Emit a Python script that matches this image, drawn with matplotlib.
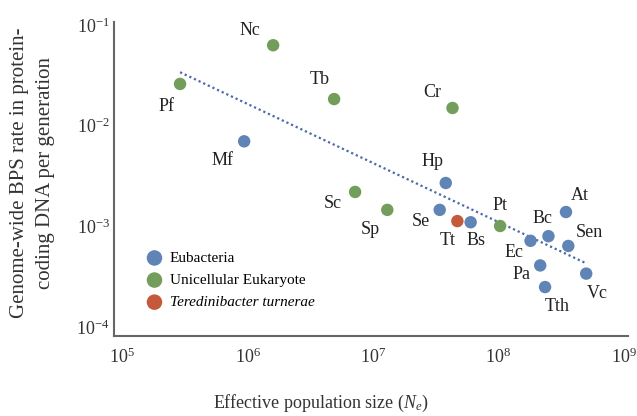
import matplotlib
matplotlib.use("Agg")
import matplotlib.pyplot as plt
import numpy as np

plt.rcParams['font.family'] = ['Liberation Serif', 'DejaVu Serif']
plt.rcParams['mathtext.fontset'] = 'custom'
plt.rcParams['mathtext.rm'] = 'Liberation Serif'
plt.rcParams['mathtext.it'] = 'Liberation Serif:italic'

# species: name, Ne, rate, group
names = ['Nc', 'Pf', 'Mf', 'Tb', 'Cr', 'Hp', 'Sc', 'Sp', 'Se', 'Tt', 'Bs',
         'Pt', 'Bc', 'At', 'Sen', 'Ec', 'Pa', 'Tth', 'Vc']
ne = [1.6e6, 2.9e5, 9.4e5, 4.9e6, 4.3e7, 3.8e7, 7.2e6, 1.3e7, 3.4e7, 4.7e7, 6.0e7,
      1.03e8, 2.5e8, 3.45e8, 3.6e8, 1.8e8, 2.15e8, 2.35e8, 5.0e8]
rate = [0.063, 0.026, 0.0070, 0.0184, 0.015, 0.0027, 0.0022, 0.00146, 0.00146, 0.00113, 0.0011,
        0.00101, 0.0008, 0.00139, 0.00064, 0.00072, 0.00041, 0.00025, 0.00034]
group = ['U', 'U', 'B', 'U', 'U', 'B', 'U', 'U', 'B', 'T', 'B',
         'U', 'B', 'B', 'B', 'B', 'B', 'B', 'B']

# label offsets in pixels
offsets = {'Nc': (-23, 15), 'Pf': (-14, -23), 'Mf': (-22, -19), 'Tb': (-14, 20),
           'Cr': (-20, 15), 'Hp': (-13, 21), 'Sc': (-22, -12), 'Sp': (-17, -20),
           'Se': (-19, -12), 'Tt': (-10, -19), 'Bs': (5, -18), 'Pt': (0, 20),
           'Bc': (-6, 18), 'At': (14, 17), 'Sen': (21, 13), 'Ec': (-17, -12),
           'Pa': (-19, -9), 'Tth': (12, -19), 'Vc': (11, -20)}

# regression line end points
trend_x = [2.9e5, 5.0e8]
trend_y = [0.034, 0.00043]

colors = {'B': '#5f84b6', 'U': '#729d5a', 'T': '#c45a3b'}
legend_names = {'B': 'Eubacteria', 'U': 'Unicellular Eukaryote', 'T': 'Teredinibacter turnerae'}

fig = plt.figure(figsize=(6.37, 4.16), dpi=100)
ax = fig.add_axes([114/637, 80/416, 514/637, 314/416])
ax.set_xscale('log')
ax.set_yscale('log')
ax.set_xlim(10**4.936, 10**9.032)
ax.set_ylim(10**-4.088, 10**-0.97)

ax.plot(trend_x, trend_y, linestyle=(0, (1, 1.3)), color='#4a6aa8', lw=1.6)

ne = np.array(ne)
rate = np.array(rate)
group = np.array(group)
for g in ['B', 'U', 'T']:
    m = group == g
    ax.scatter(ne[m], rate[m], s=80, c=colors[g], edgecolors='none',
               label=legend_names[g], zorder=3)

for n, x, y in zip(names, ne, rate):
    dx, dy = offsets[n]
    ax.annotate(n, (x, y), xytext=(dx, dy), textcoords='offset pixels',
                ha='center', va='center', fontsize=13, color='#222222')

for s in ['top', 'right']:
    ax.spines[s].set_visible(False)
for s in ['left', 'bottom']:
    ax.spines[s].set_color('#666666')
    ax.spines[s].set_linewidth(1.5)

ax.set_xticks([1e5, 1e6, 1e7, 1e8, 1e9])
ax.set_xticklabels(['$10^5$', '$10^6$', '$10^7$', '$10^8$', '$10^9$'])
ax.set_yticks([1e-4, 1e-3, 1e-2, 1e-1])
ax.set_yticklabels(['$10^{-4}$', '$10^{-3}$', '$10^{-2}$', '$10^{-1}$'])
ax.minorticks_off()
ax.tick_params(length=0, labelsize=13, labelcolor='#333333')
ax.tick_params(axis='x', pad=8)
ax.tick_params(axis='y', pad=3)

leg = ax.legend(loc='lower left', bbox_to_anchor=(0.052, 0.066), frameon=False,
                fontsize=11, handlelength=1.0, handletextpad=0.5, labelspacing=0.55,
                borderaxespad=0, markerscale=1.25)
leg.get_texts()[2].set_style('italic')

fig.text(321/637, 13/416, 'Effective population size ($N_e$)', ha='center', va='center',
         fontsize=13, color='#333333')
fig.text(33/637, 1 - 173/416, 'Genome-wide BPS rate in protein-\ncoding DNA per generation',
         rotation=90, ha='center', va='center', fontsize=15, color='#333333',
         linespacing=1.5)

fig.savefig('out.png', dpi=100)
